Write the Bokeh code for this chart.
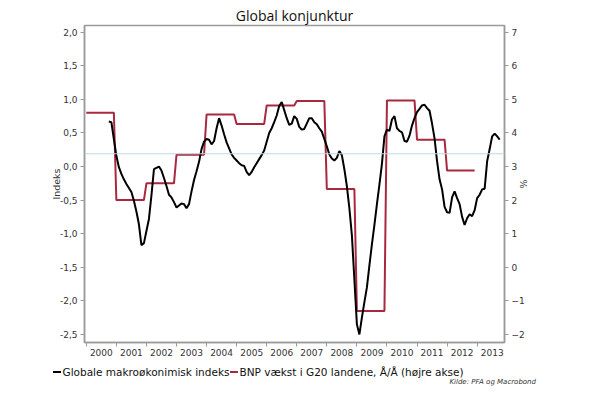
import html
import numpy as np
import pandas as pd
from bokeh.plotting import figure
from bokeh.layouts import column
from bokeh.models import (Range1d, LinearAxis, FixedTicker, CustomJSTickFormatter,
                          Span, Title, Div)
from bokeh.embed import file_html
from bokeh.resources import INLINE

# ---------------- data ----------------
title_text = "Global konjunktur"
source_text = "Kilde: PFA og Macrobond"
series_names = ["Globale makroøkonimisk indeks", "BNP vækst i G20 landene, Å/Å (højre akse)"]

# monthly index, first observation October 2000
makro_start = "2000-10-01"
makro_index = [
    0.67, 0.66, 0.41, 0.16, -0.01, -0.11, -0.19, -0.26, -0.32, -0.38, -0.51, -0.67,
    -0.86, -1.17, -1.14, -0.96, -0.78, -0.43, -0.04, -0.02, 0.00, -0.06, -0.17, -0.29,
    -0.42, -0.46, -0.53, -0.61, -0.58, -0.55, -0.56, -0.62, -0.56, -0.37, -0.20, -0.07,
    0.07, 0.26, 0.37, 0.41, 0.40, 0.33, 0.38, 0.57, 0.72, 0.61, 0.48, 0.36,
    0.27, 0.18, 0.13, 0.09, 0.05, 0.02, 0.01, -0.08, -0.13, -0.08, -0.01, 0.05,
    0.11, 0.17, 0.24, 0.37, 0.50, 0.57, 0.66, 0.76, 0.90, 0.96, 0.84, 0.72,
    0.62, 0.64, 0.75, 0.71, 0.59, 0.55, 0.56, 0.64, 0.72, 0.72, 0.66, 0.63,
    0.57, 0.52, 0.41, 0.30, 0.18, 0.12, 0.09, 0.13, 0.23, 0.17, -0.04, -0.29,
    -0.62, -1.02, -1.68, -2.35, -2.50, -2.25, -2.02, -1.80, -1.47, -1.16, -0.87, -0.56,
    -0.27, 0.04, 0.45, 0.55, 0.53, 0.70, 0.75, 0.57, 0.53, 0.51, 0.38, 0.37,
    0.46, 0.61, 0.72, 0.81, 0.86, 0.91, 0.92, 0.87, 0.83, 0.64, 0.42, 0.08,
    -0.19, -0.34, -0.60, -0.68, -0.69, -0.46, -0.37, -0.47, -0.56, -0.75, -0.87, -0.77,
    -0.71, -0.74, -0.65, -0.47, -0.42, -0.34, -0.33, 0.08, 0.26, 0.45, 0.49, 0.45,
    0.40,
]

# annual G20 GDP growth (%), right axis
gdp_years = [2000, 2001, 2002, 2003, 2004, 2005, 2006, 2007, 2008, 2009, 2010, 2011, 2012]
gdp_growth = [4.6, 2.0, 2.5, 3.35, 4.55, 4.27, 4.82, 4.95, 2.33, -1.3, 4.97, 3.8, 2.88]

reference_level = 0.19  # light horizontal line on left axis

year_labels = list(range(2000, 2014))
left_ticks = [-2.5, -2.0, -1.5, -1.0, -0.5, 0.0, 0.5, 1.0, 1.5, 2.0]
right_ticks = [-2, -1, 0, 1, 2, 3, 4, 5, 6, 7]

# ---------------- derived ----------------
dates = pd.date_range(makro_start, periods=len(makro_index), freq="MS")
makro_x = dates.year + (dates.month - 1) / 12.0

gdp_x, gdp_y = [], []
for yr, v in zip(gdp_years, gdp_growth):
    for m in range(12):
        gdp_x.append(yr + m / 12.0)
        gdp_y.append(v)

BLACK = "#000000"
RED = "#a8283f"
GRAY = "#9a9a9a"
TXT = "#333333"
FONT = "DejaVu Sans"

W = 592
p = figure(width=W, height=362, output_backend="svg", toolbar_location=None,
           title=None,
           x_range=Range1d(1999.94, 2013.91), y_range=Range1d(-2.62, 2.1),
           min_border_left=84, min_border_right=88, min_border_top=25,
           min_border_bottom=20)
p.extra_y_ranges = {"right": Range1d(-2.24, 7.2)}

p.xgrid.visible = False
p.ygrid.visible = False
p.outline_line_color = GRAY
p.outline_line_width = 1.5
p.background_fill_color = "white"
p.border_fill_color = "white"

# reference line
p.add_layout(Span(location=reference_level, dimension="width",
                  line_color="#bcd8e4", line_width=1))

r_red = p.line(gdp_x, gdp_y, y_range_name="right", line_color=RED, line_width=2)
r_black = p.line(makro_x, makro_index, line_color=BLACK, line_width=2)

# x axis
xa = p.xaxis[0]
xa.ticker = FixedTicker(ticks=[y + 0.5 for y in year_labels], minor_ticks=year_labels)
xa.formatter = CustomJSTickFormatter(code="return String(Math.floor(tick));")
xa.major_tick_line_color = None
xa.major_tick_out = 0
xa.major_tick_in = 0
xa.minor_tick_line_color = GRAY
xa.minor_tick_out = 4
xa.minor_tick_in = 0
xa.axis_line_color = GRAY
xa.axis_line_width = 1.5
xa.major_label_standoff = 2
xa.major_label_text_font = FONT
xa.major_label_text_font_size = "9px"
xa.major_label_text_color = TXT

# left axis
ya = p.yaxis[0]
ya.ticker = FixedTicker(ticks=left_ticks)
ya.formatter = CustomJSTickFormatter(code="return tick.toFixed(1).replace('.', ',');")
ya.axis_label = "Indeks"
ya.axis_label_text_font = FONT
ya.axis_label_text_font_size = "9.5px"
ya.axis_label_text_font_style = "normal"
ya.axis_label_text_color = TXT
ya.axis_label_standoff = -5
ya.major_tick_out = 4
ya.major_tick_in = 0
ya.minor_tick_line_color = None
ya.major_tick_line_color = GRAY
ya.axis_line_color = GRAY
ya.axis_line_width = 1.5
ya.major_label_standoff = 3
ya.major_label_text_font = FONT
ya.major_label_text_font_size = "9px"
ya.major_label_text_color = TXT

# right axis
ra = LinearAxis(y_range_name="right", ticker=FixedTicker(ticks=right_ticks),
                axis_label="%")
ra.axis_label_text_font = FONT
ra.axis_label_text_font_size = "9.5px"
ra.axis_label_text_font_style = "normal"
ra.axis_label_text_color = TXT
ra.axis_label_standoff = -10
ra.major_tick_out = 4
ra.major_tick_in = 0
ra.minor_tick_line_color = None
ra.major_tick_line_color = GRAY
ra.axis_line_color = GRAY
ra.axis_line_width = 1.5
ra.major_label_standoff = 3
ra.major_label_text_font = FONT
ra.major_label_text_font_size = "9px"
ra.major_label_text_color = TXT
p.add_layout(ra, "right")

# title
p.add_layout(Title(text=title_text, align="center", offset=-3, standoff=2,
                   text_font="Open Sans", text_font_size="14px",
                   text_font_style="normal", text_color="#111111"), "above")

# ---------------- footer: legend and source (HTML) ----------------
FH = 34
dash_left = [52.7, 230.0]
dash_width = [8, 7.5]
text_left = [62.5, 239.5]
colors = [BLACK, RED]
parts = [f'<div style="position:relative;width:{W}px;height:{FH}px;'
         f'font-family:\'{FONT}\';margin:0;padding:0;">']
for name, dl, dw, tl, c in zip(series_names, dash_left, dash_width, text_left, colors):
    parts.append(f'<span style="position:absolute;left:{dl}px;top:9px;width:{dw}px;'
                 f'height:2px;background:{c};"></span>')
    parts.append(f'<span style="position:absolute;left:{tl}px;top:4px;font-size:10.5px;'
                 f'line-height:12px;color:#111111;white-space:nowrap;">'
                 f'{html.escape(name)}</span>')
parts.append(f'<span style="position:absolute;right:{W - 536}px;top:16px;font-size:7px;'
             f'line-height:8px;font-style:italic;color:{TXT};white-space:nowrap;">'
             f'{html.escape(source_text)}</span>')
parts.append('</div>')
foot = Div(text="".join(parts), width=W, height=FH, margin=(0, 0, 0, 0))

layout = column(p, foot, spacing=0)
open("out.html", "w").write(file_html(layout, INLINE))
